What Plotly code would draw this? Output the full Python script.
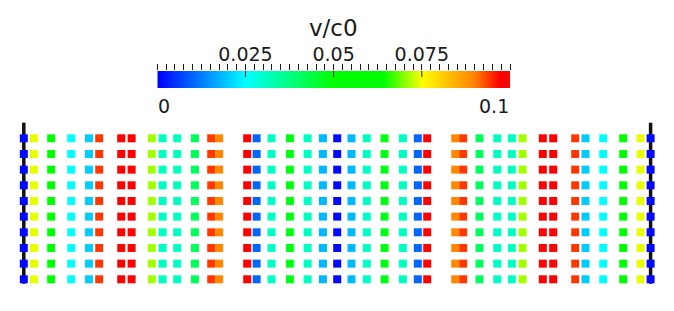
import plotly.graph_objects as go
import numpy as np

# ---- data ----
# particle x positions (fraction of the domain, walls at 0 and 1)
POS = [0.0, 0.0161, 0.0437, 0.0756, 0.1039, 0.1203, 0.1554, 0.1720, 0.2042, 0.2214,
       0.2447, 0.2730, 0.2990, 0.3117, 0.3564, 0.3714, 0.3952, 0.4245, 0.4528, 0.4772,
       0.5,
       0.5228, 0.5472, 0.5755, 0.6048, 0.6286, 0.6436, 0.6883, 0.7010, 0.7270, 0.7553,
       0.7786, 0.7958, 0.8280, 0.8446, 0.8797, 0.8961, 0.9244, 0.9563, 0.9839, 1.0]
# v/c0 of each column
VEL = [0.001, 0.074, 0.055, 0.025, 0.020, 0.094, 0.099, 0.099, 0.071, 0.031,
       0.031, 0.041, 0.094, 0.089, 0.099, 0.010, 0.031, 0.048, 0.031, 0.018,
       0.001,
       0.018, 0.031, 0.048, 0.031, 0.010, 0.099, 0.089, 0.094, 0.041, 0.031,
       0.031, 0.071, 0.099, 0.099, 0.094, 0.020, 0.025, 0.055, 0.074, 0.001]
ROWS = [1, 2, 3, 4, 5, 6, 7, 8, 9, 10]
WALL_X = [0.0, 1.0]
WALL_Y = [0.72, 11.0]

CB_MIN, CB_MAX = 0.0, 0.1
TICK_VALUES = [0.0, 0.025, 0.05, 0.075, 0.1]
TICK_LABELS = ["", "0.025", "0.05", "0.075", ""]
MAJOR_INNER = [0.025, 0.05, 0.075]
END_LABELS = ["0", "0.1"]
TITLE = "v/c0"

COLORSCALE = [[0.0, "#0000ff"], [0.25, "#00ffff"], [0.5, "#00ff00"], [0.64, "#00ff00"],
              [0.75, "#ffff00"], [0.9, "#ff8000"], [0.97, "#ff0000"], [1.0, "#ff0000"]]

FONT = "DejaVu Sans"
TXT = "#1a1a1a"
W, H = 674, 311
OFF = 8  # page body margin compensation

xs, ys, cs = [], [], []
for r in ROWS:
    for p, v in zip(POS, VEL):
        xs.append(p)
        ys.append(r)
        cs.append(v)

fig = go.Figure()

# walls
for wx in WALL_X:
    fig.add_trace(go.Scatter(x=[wx, wx], y=WALL_Y, mode="lines",
                             line=dict(color="#111111", width=3.5),
                             hoverinfo="skip", showlegend=False))

# particles
fig.add_trace(go.Scatter(x=xs, y=ys, mode="markers",
                         marker=dict(symbol="square", size=8, color=cs,
                                     colorscale=COLORSCALE, cmin=CB_MIN, cmax=CB_MAX,
                                     line=dict(width=0)),
                         showlegend=False))

# colour bar drawn as a heatmap on its own axes
grad = np.linspace(CB_MIN, CB_MAX, 300)
fig.add_trace(go.Heatmap(z=[grad], x=grad, y=[0], xaxis="x2", yaxis="y2",
                         colorscale=COLORSCALE, zmin=CB_MIN, zmax=CB_MAX,
                         showscale=False, zsmooth="best", hoverinfo="skip"))

shapes = []
for v in MAJOR_INNER:
    shapes.append(dict(type="line", xref="x2", yref="y2 domain", x0=v, x1=v, y0=1, y1=0.65,
                       line=dict(color=TXT, width=1)))

annotations = [
    dict(text=TITLE, xref="x2", yref="paper", x=(CB_MIN + CB_MAX) / 2, y=1 - (27.5 - OFF) / H,
         xanchor="center", yanchor="middle", showarrow=False,
         font=dict(family=FONT, size=23, color=TXT)),
    dict(text=END_LABELS[0], xref="x2", yref="paper", x=CB_MIN, y=1 - (106 - OFF) / H,
         xanchor="left", yanchor="middle", showarrow=False, xshift=-1,
         font=dict(family=FONT, size=19, color=TXT)),
    dict(text=END_LABELS[1], xref="x2", yref="paper", x=CB_MAX, y=1 - (106 - OFF) / H,
         xanchor="right", yanchor="middle", showarrow=False, xshift=1,
         font=dict(family=FONT, size=19, color=TXT)),
]

fig.update_layout(
    width=W, height=H,
    margin=dict(l=0, r=0, t=0, b=0),
    paper_bgcolor="white", plot_bgcolor="rgba(0,0,0,0)",
    showlegend=False,
    xaxis=dict(domain=[0, 1], range=[-0.02521, 1.05009], visible=False),
    yaxis=dict(domain=[0, 1], range=[-1.534, 18.317], visible=False),
    xaxis2=dict(domain=[(157.3 - OFF) / W, (510 - OFF) / W], range=[CB_MIN, CB_MAX], anchor="y2",
                side="top", ticks="outside", ticklen=6, tickwidth=1, tickcolor=TXT,
                tickvals=TICK_VALUES, ticktext=TICK_LABELS, ticklabelstandoff=-5,
                tickfont=dict(family=FONT, size=19, color=TXT),
                minor=dict(dtick=0.0025, ticks="outside", ticklen=6, tickwidth=1,
                           tickcolor=TXT, showgrid=False),
                showgrid=False, zeroline=False, showline=False),
    yaxis2=dict(domain=[(H - 88.3 + OFF) / H, (H - 71 + OFF) / H], range=[-0.5, 0.5], anchor="x2",
                visible=False),
    shapes=shapes,
    annotations=annotations,
)

fig.write_html("out.html")
